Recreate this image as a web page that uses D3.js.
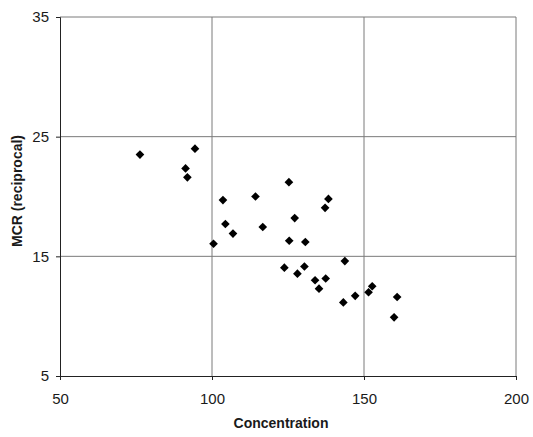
<!DOCTYPE html>
<html>
<head>
<meta charset="utf-8">
<script src="https://cdn.jsdelivr.net/npm/d3@7"></script>
<style>
  body { margin: 0; background: #fff; }
  text { font-family: Arial, "Liberation Sans", sans-serif; }
</style>
</head>
<body>
<div id="chart"></div>
<script>
const concentration = [76.3, 94.4, 91.3, 91.9, 125.3, 114.3, 103.6, 138.3, 137.2, 127.2,
  104.4, 116.7, 106.9, 100.5, 125.4, 130.7, 143.7, 123.8, 130.4, 128.1,
  133.9, 137.4, 135.2, 143.2, 147.1, 151.5, 152.7, 160.9, 159.9]
const mcr = [23.5, 24.0, 22.35, 21.6, 21.2, 20.0, 19.7, 19.8, 19.05, 18.2,
  17.7, 17.45, 16.9, 16.05, 16.3, 16.2, 14.6, 14.05, 14.15, 13.55,
  13.0, 13.15, 12.3, 11.15, 11.7, 12.0, 12.5, 11.6, 9.9]
const xTicks = [50, 100, 150, 200]
const yTicks = [5, 15, 25, 35]

const width = 533, height = 437
const margin = { top: 17, right: 17, bottom: 61, left: 60 }

const svg = d3.select("#chart").append("svg")
  .attr("width", width)
  .attr("height", height)

const x = d3.scaleLinear().domain([50, 200]).range([margin.left, width - margin.right])
const y = d3.scaleLinear().domain([5, 35]).range([height - margin.bottom, margin.top])

// gridlines
svg.append("g")
  .selectAll("line")
  .data(xTicks.slice(1))
  .join("line")
    .attr("x1", d => x(d)).attr("x2", d => x(d))
    .attr("y1", y(35)).attr("y2", y(5))
    .attr("stroke", "#7a7a7a").attr("stroke-width", 1)

svg.append("g")
  .selectAll("line")
  .data(yTicks.slice(1))
  .join("line")
    .attr("x1", x(50)).attr("x2", x(200))
    .attr("y1", d => y(d)).attr("y2", d => y(d))
    .attr("stroke", "#7a7a7a").attr("stroke-width", 1)

// axes
const xAxis = svg.append("g")
  .attr("transform", "translate(0," + y(5) + ")")
  .call(d3.axisBottom(x).tickValues(xTicks).tickSize(4).tickPadding(13))
const yAxis = svg.append("g")
  .attr("transform", "translate(" + x(50) + ",0)")
  .call(d3.axisLeft(y).tickValues(yTicks).tickSize(4).tickPadding(7))

;[xAxis, yAxis].forEach(a => {
  a.select(".domain").attr("stroke", "#222")
  a.selectAll("line").attr("stroke", "#222")
  a.selectAll("text").attr("font-size", 15).attr("fill", "#1a1a1a")
    .style("font-family", "Arial, 'Liberation Sans', sans-serif")
})

// points (diamonds)
const diamond = d3.symbol().type(d3.symbolDiamond2).size(48)
svg.append("g")
  .selectAll("path")
  .data(concentration.map((c, i) => ({ c: c, m: mcr[i] })))
  .join("path")
    .attr("transform", d => "translate(" + x(d.c) + "," + y(d.m) + ")")
    .attr("d", diamond)
    .attr("fill", "#000")

// axis titles
svg.append("text")
  .attr("x", 281)
  .attr("y", 428)
  .attr("text-anchor", "middle")
  .attr("font-size", 14)
  .attr("font-weight", "bold")
  .attr("fill", "#1a1a1a")
  .text("Concentration")

svg.append("text")
  .attr("transform", "translate(22,191) rotate(-90)")
  .attr("text-anchor", "middle")
  .attr("font-size", 14)
  .attr("font-weight", "bold")
  .attr("fill", "#1a1a1a")
  .text("MCR (reciprocal)")
</script>
</body>
</html>
